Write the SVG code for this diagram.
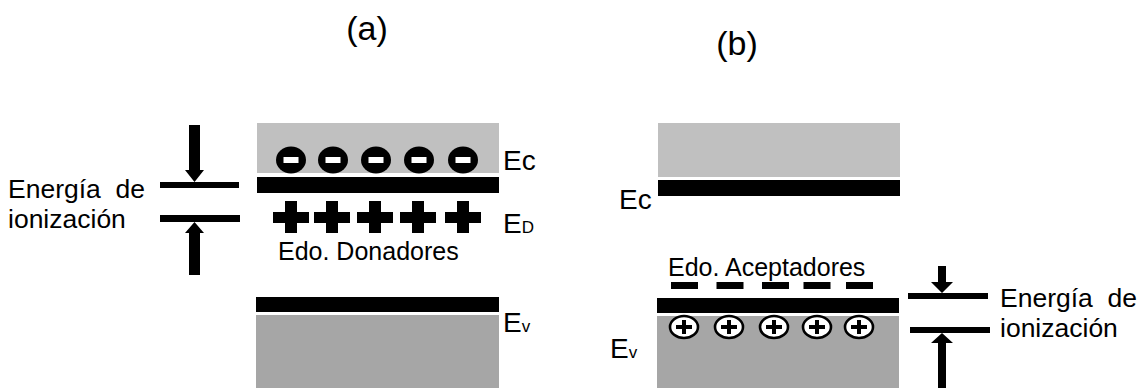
<svg xmlns="http://www.w3.org/2000/svg" width="1148" height="388" viewBox="0 0 1148 388">
  <style>
    text { font-family: "Liberation Sans", Arial, sans-serif; fill: #000; }
    .title { font-size: 34px; text-anchor: middle; }
    .lbl { font-size: 28px; }
    .sub { font-size: 17px; }
    .note { font-size: 26.5px; }
    .don { font-size: 25px; }
    .cb { fill: #c0c0c0; }
    .vb { fill: #a6a6a6; }
    .lvl { fill: #000; }
  </style>
  <defs>
    <!-- ionized donor: black disc with white minus -->
    <g id="neg">
      <ellipse cx="0" cy="0" rx="15" ry="13.5" fill="#000"/>
      <rect x="-7.5" y="-3" width="15" height="6" fill="#fff"/>
    </g>
    <!-- donor level mark -->
    <path id="plus" d="M-6,-16 H6 V-5 H18 V6 H6 V16 H-6 V6 H-18 V-5 H-6 Z" fill="#000"/>
    <!-- hole: ring with plus -->
    <g id="hole">
      <ellipse cx="0" cy="0" rx="14" ry="11" fill="#fff" stroke="#000" stroke-width="2.6"/>
      <rect x="-8" y="-2" width="16" height="4" fill="#000"/>
      <rect x="-2" y="-7" width="4" height="14" fill="#000"/>
    </g>
    <!-- acceptor level dash -->
    <rect id="dash" x="-13.5" y="-3.5" width="27" height="7" fill="#000"/>
  </defs>

  <!-- (a) n-type -->
  <g id="panel-a">
    <text class="title" x="367" y="40">(a)</text>
    <g id="a-conduction">
      <rect class="cb" x="257" y="123" width="242" height="50"/>
      <use href="#neg" x="291" y="160"/>
      <use href="#neg" x="333" y="160"/>
      <use href="#neg" x="376" y="160"/>
      <use href="#neg" x="419" y="160"/>
      <use href="#neg" x="463" y="160"/>
      <rect class="lvl" x="257" y="177" width="242" height="16"/>
      <text class="lbl" x="503" y="170">Ec</text>
    </g>
    <g id="a-donors">
      <use href="#plus" x="291" y="217"/>
      <use href="#plus" x="332" y="217"/>
      <use href="#plus" x="375" y="217"/>
      <use href="#plus" x="418" y="217"/>
      <use href="#plus" x="463" y="217"/>
      <text class="lbl" x="503" y="233">E<tspan class="sub">D</tspan></text>
      <text class="don" x="278" y="260">Edo. Donadores</text>
    </g>
    <g id="a-valence">
      <rect class="lvl" x="256" y="297" width="243" height="15"/>
      <rect class="vb" x="256" y="315" width="243" height="73"/>
      <text class="lbl" x="503" y="332">E<tspan class="sub">v</tspan></text>
    </g>
    <g id="a-ionization">
      <text class="note" x="8" y="198" xml:space="preserve">Energía  de</text>
      <text class="note" x="8" y="228">ionización</text>
    </g>
  </g>

  <!-- (b) p-type -->
  <g id="panel-b">
    <text class="title" x="737" y="55">(b)</text>
    <g id="b-conduction">
      <rect class="cb" x="658" y="123" width="242" height="54"/>
      <rect class="lvl" x="658" y="180" width="242" height="16"/>
      <text class="lbl" x="619" y="209">Ec</text>
    </g>
    <g id="b-acceptors">
      <text class="don" x="668" y="276">Edo. Aceptadores</text>
      <use href="#dash" x="684.5" y="285.5"/>
      <use href="#dash" x="730" y="285.5"/>
      <use href="#dash" x="775.5" y="285.5"/>
      <use href="#dash" x="817" y="285.5"/>
      <use href="#dash" x="859.5" y="285.5"/>
    </g>
    <g id="b-valence">
      <rect class="lvl" x="657" y="298" width="242" height="15"/>
      <rect class="vb" x="657" y="316" width="242" height="72"/>
      <use href="#hole" x="684" y="327"/>
      <use href="#hole" x="729" y="327"/>
      <use href="#hole" x="774" y="327"/>
      <use href="#hole" x="817" y="327"/>
      <use href="#hole" x="859" y="327"/>
      <text class="lbl" x="610" y="358">E<tspan class="sub">v</tspan></text>
    </g>
    <g id="b-ionization">
      <text class="note" x="1000" y="307" xml:space="preserve">Energía  de</text>
      <text class="note" x="1000" y="337">ionización</text>
    </g>
  </g>

  <!-- ionization-energy gap markers -->
  <g id="connectors" fill="#000">
    <rect x="160" y="182" width="79" height="6"/>
    <rect x="160" y="215" width="80" height="7"/>
    <path d="M189,125 H200 V170 H204 L194.5,182 L185,170 H189 Z"/>
    <path d="M189,275 H200 V233 H204 L194.5,222 L185,233 H189 Z"/>
    <rect x="908" y="293" width="80" height="6"/>
    <rect x="910" y="327" width="80" height="6"/>
    <path d="M938,266 H946 V282 H953 L942,293 L931,282 H938 Z"/>
    <path d="M938,388 H946 V343 H953 L942,333 L931,343 H938 Z"/>
  </g>
</svg>
